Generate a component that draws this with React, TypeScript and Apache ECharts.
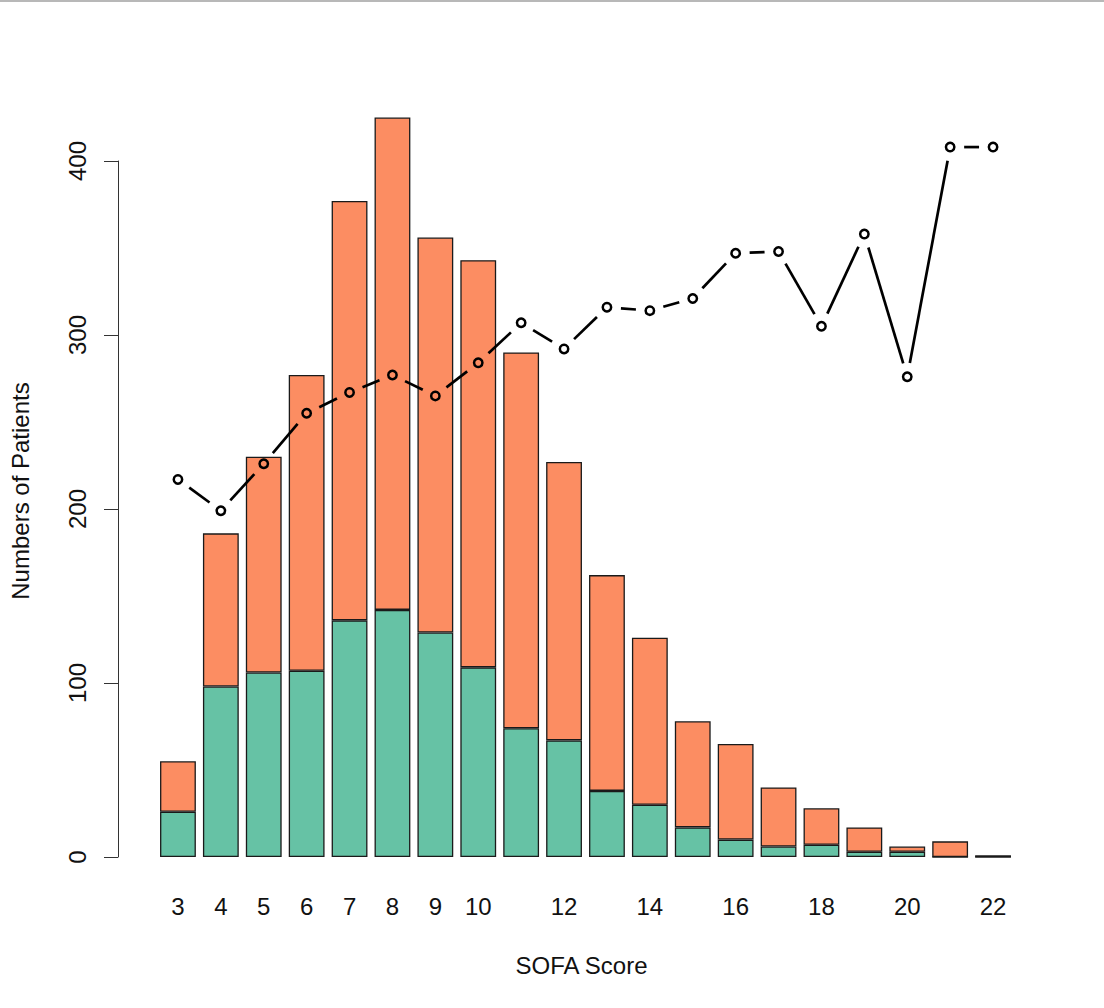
import React, { useEffect, useRef } from "react";
import * as echarts from "echarts";

const categories = ["3", "4", "5", "6", "7", "8", "9", "10", "11", "12", "13", "14", "15", "16", "17", "18", "19", "20", "21", "22"];
const greenValues = [26, 98, 106, 107, 136, 142, 129, 109, 74, 67, 38, 30, 17, 10, 6, 7, 3, 3, 0, 0];
const orangeValues = [29, 88, 124, 170, 241, 283, 227, 234, 216, 160, 124, 96, 61, 55, 34, 21, 14, 3, 9, 1];
const lineValues = [217, 199, 226, 255, 267, 277, 265, 284, 307, 292, 316, 314, 321, 347, 348, 305, 358, 276, 408, 408];
const yTicks = [0, 100, 200, 300, 400];

const FONT = "'Liberation Sans', Arial, sans-serif";

export default function App() {
  const ref = useRef<HTMLDivElement>(null);

  useEffect(() => {
    if (!ref.current) return;
    const chart = echarts.init(ref.current, null, { renderer: "svg" });
    const GAP = 14;
    const option: any = {
      animation: false,
      backgroundColor: "#ffffff",
      textStyle: { fontFamily: FONT },
      graphic: [
        {
          type: "rect",
          left: 0,
          top: 0,
          shape: { width: 1104, height: 2 },
          style: { fill: "#b8b8b8" },
          silent: true,
        },
      ],
      grid: { left: 156, right: 89.5, top: 161, bottom: 151, containLabel: false },
      xAxis: {
        type: "category",
        data: categories,
        boundaryGap: true,
        name: "SOFA Score",
        nameLocation: "middle",
        nameGap: 96,
        nameTextStyle: { fontSize: 24, color: "#111", fontFamily: FONT, padding: [0, 8, 0, 0] },
        axisLine: { show: false },
        axisTick: { show: false },
        axisLabel: {
          fontSize: 24,
          color: "#111",
          fontFamily: FONT,
          margin: 37,
          interval: (index: number, value: string) => Number(value) <= 10 || Number(value) % 2 === 0,
        },
        splitLine: { show: false },
      },
      yAxis: {
        type: "value",
        min: 0,
        max: 400,
        interval: 100,
        offset: 38.5,
        name: "Numbers of Patients",
        nameLocation: "middle",
        nameRotate: 90,
        nameGap: 86,
        nameTextStyle: { fontSize: 24, color: "#111", fontFamily: FONT, padding: [0, 0, 0, 36] },
        axisLine: { show: true, lineStyle: { color: "#333", width: 1 } },
        axisTick: { show: true, length: 14, lineStyle: { color: "#333", width: 1 }, customValues: yTicks },
        axisLabel: {
          rotate: 90,
          fontSize: 24,
          color: "#111",
          fontFamily: FONT,
          margin: 29,
          customValues: yTicks,
        },
        splitLine: { show: false },
      },
      series: [
        {
          name: "Group A",
          type: "bar",
          stack: "total",
          data: greenValues,
          barCategoryGap: "16.5%",
          clip: false,
          itemStyle: { color: "#66C2A5", borderColor: "#1a1a1a", borderWidth: 1.3 },
          z: 2,
        },
        {
          name: "Group B",
          type: "bar",
          stack: "total",
          data: orangeValues,
          barCategoryGap: "16.5%",
          clip: false,
          itemStyle: { color: "#FC8D62", borderColor: "#1a1a1a", borderWidth: 1.3 },
          z: 2,
        },
        {
          name: "Trend",
          type: "custom",
          clip: false,
          z: 5,
          data: lineValues.map((v, i) => [i, v]),
          encode: { x: 0, y: 1 },
          renderItem: (params: any, api: any) => {
            const i = params.dataIndex;
            const p = api.coord([i, lineValues[i]]);
            const children: any[] = [
              {
                type: "circle",
                shape: { cx: p[0], cy: p[1], r: 4.2 },
                style: { fill: "none", stroke: "#000", lineWidth: 2.5 },
              },
            ];
            if (i < lineValues.length - 1) {
              const q = api.coord([i + 1, lineValues[i + 1]]);
              const dx = q[0] - p[0];
              const dy = q[1] - p[1];
              const d = Math.sqrt(dx * dx + dy * dy);
              if (d > 2 * GAP) {
                const ux = dx / d;
                const uy = dy / d;
                children.push({
                  type: "line",
                  shape: {
                    x1: p[0] + ux * GAP,
                    y1: p[1] + uy * GAP,
                    x2: q[0] - ux * GAP,
                    y2: q[1] - uy * GAP,
                  },
                  style: { stroke: "#000", lineWidth: 2.7, lineCap: "butt" },
                });
              }
            }
            return { type: "group", children };
          },
        },
      ],
    };
    chart.setOption(option);
    return () => {
      chart.dispose();
    };
  }, []);

  return (
    <div
      ref={ref}
      style={{ position: "absolute", left: 0, top: 0, width: 1104, height: 1008, background: "#fff" }}
    />
  );
}
